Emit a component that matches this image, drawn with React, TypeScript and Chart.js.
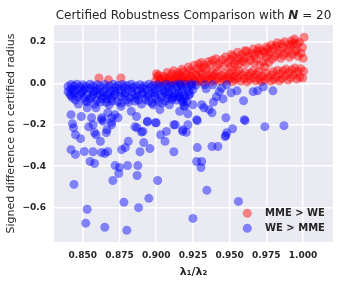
import React, { useEffect, useRef } from "react";
import { Chart, registerables } from "chart.js";

Chart.register(...registerables);

const chartTitle = "Certified Robustness Comparison with ";
const chartTitleVar = "N";
const chartTitleTail = " = 20";
const xAxisLabel = "λ₁/λ₂";
const yAxisLabel = "Signed difference on certified radius";
const seriesLabels = ["MME > WE", "WE > MME"];
const xTickValues = [0.85, 0.875, 0.9, 0.925, 0.95, 0.975, 1.0];
const yTickValues = [-0.6, -0.4, -0.2, 0.0, 0.2];

// MME > WE  [ratio, signed difference]
const mmePoints: [number, number][] = [
  [0.861, 0.026], [0.8675, 0.017], [0.876, 0.026],
  [0.8995, 0.012], [0.9008, 0.032], [0.9002, 0.047],
  [0.9021, 0.004], [0.9029, 0.021], [0.9017, 0.039],
  [0.9043, 0.016], [0.9051, 0.034],
  [0.9062, 0.007], [0.9068, 0.026], [0.9074, 0.052],
  [0.9086, 0.013], [0.9093, 0.031],
  [0.9101, 0.005], [0.9112, 0.019], [0.9106, 0.046], [0.9118, 0.061],
  [0.9127, 0.014], [0.9134, 0.037],
  [0.9145, 0.009], [0.9152, 0.027], [0.9149, 0.051],
  [0.9166, 0.004], [0.9171, 0.022], [0.9159, 0.041], [0.9175, 0.068],
  [0.9188, 0.011], [0.9193, 0.031], [0.9184, 0.056],
  [0.9202, 0.007], [0.9213, 0.024], [0.9207, 0.044], [0.9219, 0.079],
  [0.9226, 0.016], [0.9238, 0.036], [0.9231, 0.063],
  [0.9246, 0.005], [0.9254, 0.021], [0.9249, 0.052], [0.9258, 0.088],
  [0.9267, 0.012], [0.9272, 0.041], [0.9279, 0.071],
  [0.9285, 0.008], [0.9291, 0.029], [0.9298, 0.057], [0.9289, 0.094],
  [0.9305, 0.019], [0.9311, 0.046], [0.9318, 0.074], [0.9309, 0.101],
  [0.9322, 0.006], [0.9331, 0.027], [0.9327, 0.086],
  [0.9348, 0.015], [0.9352, 0.039], [0.9344, 0.069], [0.9357, 0.106],
  [0.9364, 0.023], [0.9372, 0.051], [0.9369, 0.091],
  [0.9381, 0.008], [0.9388, 0.034], [0.9385, 0.112],
  [0.9404, 0.016], [0.9398, 0.044], [0.9411, 0.081], [0.9407, 0.119],
  [0.9423, 0.027], [0.9417, 0.058], [0.9429, 0.096],
  [0.9437, 0.011], [0.9445, 0.038], [0.9449, 0.114],
  [0.9458, 0.021], [0.9466, 0.049], [0.9462, 0.086], [0.9471, 0.127],
  [0.9479, 0.012], [0.9486, 0.031], [0.9491, 0.101],
  [0.9503, 0.022], [0.9497, 0.046], [0.9509, 0.079], [0.9505, 0.116], [0.9512, 0.139],
  [0.9521, 0.009], [0.9527, 0.034], [0.9518, 0.061], [0.9531, 0.094], [0.9524, 0.131],
  [0.9538, 0.018], [0.9546, 0.051], [0.9549, 0.109],
  [0.9557, 0.029], [0.9563, 0.064], [0.9559, 0.091], [0.9566, 0.124], [0.9554, 0.151],
  [0.9577, 0.011], [0.9584, 0.041], [0.9588, 0.106], [0.9581, 0.139],
  [0.9598, 0.023], [0.9604, 0.054], [0.9609, 0.096], [0.9601, 0.121], [0.9606, 0.159],
  [0.9618, 0.007], [0.9626, 0.036], [0.9629, 0.131], [0.9615, 0.154],
  [0.9637, 0.019], [0.9643, 0.049], [0.9641, 0.111], [0.9652, 0.146],
  [0.9663, 0.027], [0.9658, 0.061], [0.9667, 0.099], [0.9669, 0.136], [0.9661, 0.166],
  [0.9678, 0.013], [0.9684, 0.044], [0.9681, 0.119], [0.9692, 0.156],
  [0.9702, 0.021], [0.9697, 0.056], [0.9706, 0.089], [0.9709, 0.141], [0.9699, 0.171],
  [0.9718, 0.009], [0.9724, 0.034], [0.9729, 0.104], [0.9716, 0.159],
  [0.9738, 0.017], [0.9745, 0.051], [0.9741, 0.079], [0.9748, 0.126], [0.9736, 0.149], [0.9751, 0.176],
  [0.9762, 0.029], [0.9766, 0.101], [0.9768, 0.139], [0.9759, 0.166],
  [0.9779, 0.011], [0.9786, 0.041], [0.9789, 0.116], [0.9776, 0.154], [0.9784, 0.186],
  [0.9801, 0.019], [0.9796, 0.056], [0.9809, 0.129], [0.9798, 0.171],
  [0.9819, 0.031], [0.9826, 0.064], [0.9829, 0.144], [0.9816, 0.181], [0.9824, 0.196],
  [0.9838, 0.013], [0.9845, 0.046], [0.9848, 0.121], [0.9836, 0.161],
  [0.9857, 0.023], [0.9864, 0.061], [0.9867, 0.136], [0.9862, 0.174], [0.9855, 0.191],
  [0.9878, 0.036], [0.9884, 0.069], [0.9887, 0.149], [0.9876, 0.201],
  [0.9898, 0.016], [0.9904, 0.051], [0.9907, 0.126], [0.9896, 0.164], [0.9909, 0.189],
  [0.9918, 0.027], [0.9924, 0.066], [0.9927, 0.139], [0.9916, 0.181], [0.9922, 0.206],
  [0.9938, 0.041], [0.9944, 0.074], [0.9947, 0.154], [0.9936, 0.194], [0.9943, 0.214],
  [0.9957, 0.021], [0.9964, 0.056], [0.9967, 0.131], [0.9955, 0.161], [0.9962, 0.191],
  [0.9978, 0.031], [0.9984, 0.071], [0.9987, 0.146], [0.9976, 0.199],
  [0.9998, 0.026], [1.0004, 0.059], [1.0001, 0.121], [0.9996, 0.174], [1.0007, 0.223],
];

// WE > MME  [ratio, signed difference]
const wePoints: [number, number][] = [
  [0.840, -0.015], [0.840, -0.04],
  [0.842, -0.005], [0.842, -0.028], [0.842, -0.06],
  [0.844, -0.012], [0.844, -0.045], [0.845, -0.08],
  [0.846, -0.004], [0.846, -0.03], [0.847, -0.1],
  [0.848, -0.018], [0.848, -0.055],
  [0.850, -0.006], [0.850, -0.035], [0.851, -0.07],
  [0.852, -0.015], [0.853, -0.05], [0.853, -0.09],
  [0.855, -0.004], [0.855, -0.025], [0.856, -0.065],
  [0.857, -0.012], [0.858, -0.04], [0.858, -0.1],
  [0.860, -0.006], [0.860, -0.03], [0.861, -0.055],
  [0.862, -0.015], [0.863, -0.075], [0.864, -0.04],
  [0.865, -0.005], [0.866, -0.022], [0.867, -0.06],
  [0.868, -0.012], [0.869, -0.035], [0.870, -0.085],
  [0.871, -0.004], [0.872, -0.02], [0.872, -0.05],
  [0.874, -0.01], [0.875, -0.03], [0.876, -0.065],
  [0.877, -0.005], [0.878, -0.018], [0.879, -0.045],
  [0.880, -0.01], [0.881, -0.03], [0.882, -0.07],
  [0.883, -0.004], [0.884, -0.02], [0.885, -0.055],
  [0.886, -0.012], [0.887, -0.035], [0.888, -0.08],
  [0.889, -0.006], [0.890, -0.022], [0.891, -0.05],
  [0.892, -0.012], [0.893, -0.03], [0.894, -0.065],
  [0.895, -0.004], [0.896, -0.018], [0.897, -0.045],
  [0.898, -0.01], [0.899, -0.03], [0.900, -0.075],
  [0.901, -0.006], [0.902, -0.02], [0.903, -0.05],
  [0.904, -0.012], [0.905, -0.035], [0.906, -0.085],
  [0.907, -0.004], [0.908, -0.02], [0.909, -0.055],
  [0.910, -0.01], [0.911, -0.03], [0.912, -0.065],
  [0.913, -0.006], [0.914, -0.018], [0.915, -0.045],
  [0.917, -0.01], [0.918, -0.028], [0.919, -0.06], [0.916, -0.003],
  [0.920, -0.005], [0.921, -0.02], [0.922, -0.04],
  [0.924, -0.012], [0.925, -0.03], [0.927, -0.008],
  [0.8412, -0.052], [0.8436, -0.035], [0.8468, -0.065], [0.8493, -0.045],
  [0.8515, -0.028], [0.8547, -0.075], [0.8573, -0.038], [0.8596, -0.082],
  [0.8618, -0.045], [0.8641, -0.062], [0.8673, -0.048], [0.8694, -0.072],
  [0.8717, -0.038], [0.8739, -0.088], [0.8763, -0.045], [0.8786, -0.058],
  [0.8812, -0.092], [0.8834, -0.042], [0.8857, -0.085], [0.8878, -0.058],
  [0.8903, -0.042], [0.8926, -0.078], [0.8948, -0.052], [0.8972, -0.095],
  [0.8991, -0.045], [0.9015, -0.088], [0.9038, -0.062], [0.9061, -0.045],
  [0.9083, -0.04], [0.9107, -0.078], [0.9128, -0.048], [0.9152, -0.062],
  [0.9171, -0.042], [0.9196, -0.072], [0.9223, -0.058],
  [0.843, -0.07], [0.852, -0.085], [0.857, -0.055], [0.862, -0.09],
  [0.866, -0.075], [0.871, -0.06], [0.876, -0.095], [0.880, -0.08],
  [0.886, -0.07], [0.890, -0.1], [0.895, -0.085], [0.899, -0.06],
  [0.904, -0.095], [0.908, -0.07], [0.914, -0.08], [0.918, -0.09],
  [0.842, -0.151], [0.843, -0.195], [0.8437, -0.214], [0.845, -0.248],
  [0.8485, -0.267], [0.849, -0.16], [0.853, -0.118], [0.856, -0.166],
  [0.854, -0.21], [0.857, -0.2], [0.858, -0.238], [0.859, -0.248],
  [0.859, -0.118], [0.8627, -0.175], [0.863, -0.166], [0.864, -0.183],
  [0.867, -0.142], [0.868, -0.103], [0.8696, -0.166], [0.8696, -0.188],
  [0.8696, -0.2], [0.874, -0.166], [0.872, -0.151], [0.866, -0.092],
  [0.8665, -0.224], [0.866, -0.238], [0.862, -0.28], [0.883, -0.135],
  [0.8866, -0.16], [0.894, -0.183], [0.8995, -0.19], [0.8855, -0.21],
  [0.887, -0.214], [0.891, -0.232], [0.903, -0.248], [0.907, -0.232],
  [0.913, -0.2], [0.9195, -0.111], [0.9216, -0.2], [0.918, -0.232],
  [0.9205, -0.236], [0.9275, -0.175], [0.916, -0.135], [0.909, -0.103],
  [0.911, -0.07], [0.9025, -0.127], [0.898, -0.103], [0.876, -0.111],
  [0.894, -0.186], [0.900, -0.19], [0.912, -0.2], [0.890, -0.235],
  [0.842, -0.32], [0.845, -0.343], [0.851, -0.329], [0.857, -0.33],
  [0.855, -0.377], [0.858, -0.387], [0.8627, -0.334], [0.865, -0.339],
  [0.867, -0.329], [0.872, -0.397], [0.875, -0.406], [0.8805, -0.397],
  [0.8875, -0.397], [0.8745, -0.435], [0.8705, -0.469], [0.887, -0.445],
  [0.844, -0.488], [0.901, -0.469], [0.878, -0.574], [0.895, -0.555],
  [0.888, -0.6], [0.853, -0.608], [0.852, -0.675], [0.865, -0.695],
  [0.88, -0.709], [0.925, -0.652], [0.8765, -0.32], [0.879, -0.31],
  [0.881, -0.28], [0.8915, -0.286], [0.889, -0.33], [0.8957, -0.315],
  [0.906, -0.28], [0.912, -0.33], [0.928, -0.31], [0.9275, -0.377],
  [0.931, -0.377], [0.9305, -0.406], [0.9345, -0.516], [0.956, -0.57],
  [0.938, -0.305], [0.942, -0.305],
  [0.924, -0.003], [0.923, -0.05], [0.933, -0.007], [0.9385, -0.007],
  [0.948, -0.007], [0.9445, -0.022], [0.943, -0.04], [0.934, -0.026],
  [0.955, -0.036], [0.966, -0.04], [0.969, -0.036], [0.973, -0.017],
  [0.9795, -0.036], [0.939, -0.09], [0.9455, -0.075], [0.941, -0.065],
  [0.918, -0.08], [0.919, -0.108], [0.925, -0.103], [0.9216, -0.147],
  [0.931, -0.103], [0.9325, -0.118], [0.936, -0.127], [0.938, -0.142],
  [0.928, -0.18], [0.9475, -0.166], [0.96, -0.175], [0.951, -0.045],
  [0.9595, -0.084], [0.974, -0.209], [0.987, -0.204], [0.952, -0.219],
  [0.9475, -0.252], [0.948, -0.238], [0.916, -0.07], [0.921, -0.089],
  [0.918, -0.224], [0.9605, -0.18], [0.947, -0.257],
];

const seriesColors = ["rgba(255, 0, 0, 0.45)", "rgba(0, 0, 255, 0.45)"];
const textColor = "#262626";
const FONT = "'DejaVu Sans', sans-serif";

const backgroundPlugin = {
  id: "sbBackground",
  beforeDraw(chart: any) {
    const { ctx, chartArea } = chart;
    ctx.save();
    ctx.fillStyle = "#ffffff";
    ctx.fillRect(0, 0, chart.width, chart.height);
    ctx.fillStyle = "#EAEAF2";
    ctx.fillRect(chartArea.left, chartArea.top, chartArea.right - chartArea.left, chartArea.bottom - chartArea.top);
    ctx.restore();
  },
};

const titlePlugin = {
  id: "sbTitle",
  afterDraw(chart: any) {
    const { ctx, chartArea } = chart;
    const normal = `12px ${FONT}`;
    const bi = `italic bold 12px ${FONT}`;
    const segs: [string, string][] = [
      [chartTitle, normal],
      [chartTitleVar, bi],
      [chartTitleTail, normal],
    ];
    ctx.save();
    ctx.fillStyle = textColor;
    ctx.textBaseline = "alphabetic";
    ctx.textAlign = "left";
    let total = 0;
    for (const [t, f] of segs) {
      ctx.font = f;
      total += ctx.measureText(t).width;
    }
    let x = (chartArea.left + chartArea.right) / 2 - total / 2;
    for (const [t, f] of segs) {
      ctx.font = f;
      ctx.fillText(t, x, 19);
      x += ctx.measureText(t).width;
    }
    ctx.restore();
  },
};

const legendPlugin = {
  id: "sbLegend",
  afterDraw(chart: any) {
    const { ctx } = chart;
    const ds = chart.data.datasets;
    ctx.save();
    ctx.font = `bold 10px ${FONT}`;
    ctx.textBaseline = "middle";
    ctx.textAlign = "left";
    ds.forEach((d: any, i: number) => {
      const y = 213.3 + i * 15;
      ctx.beginPath();
      ctx.arc(247.3, y, 4.5, 0, Math.PI * 2);
      ctx.fillStyle = d.backgroundColor;
      ctx.fill();
      ctx.fillStyle = textColor;
      ctx.fillText(d.label, 265, y + 0.5);
    });
    ctx.restore();
  },
};

function fmtY(v: number) {
  const s = Math.abs(v).toFixed(1);
  return v < -1e-9 ? "\u2212" + s : s;
}

export default function App() {
  const ref = useRef<HTMLCanvasElement | null>(null);
  useEffect(() => {
    document.body.style.margin = "0";
    if (!ref.current) return;
    const chart = new Chart(ref.current, {
      type: "scatter",
      data: {
        datasets: [
          {
            label: seriesLabels[0],
            data: mmePoints.map(([x, y]) => ({ x, y })),
            backgroundColor: seriesColors[0],
            borderWidth: 0,
            pointRadius: 4.5,
            pointHoverRadius: 4.5,
            order: 2,
          },
          {
            label: seriesLabels[1],
            data: wePoints.map(([x, y]) => ({ x, y })),
            backgroundColor: seriesColors[1],
            borderWidth: 0,
            pointRadius: 4.5,
            pointHoverRadius: 4.5,
            order: 1,
          },
        ],
      },
      options: {
        animation: false,
        responsive: false,
        devicePixelRatio: 1,
        events: [],
        layout: { padding: { top: 25, right: 7, left: 0, bottom: 0 } },
        plugins: {
          legend: { display: false },
          title: { display: false },
          tooltip: { enabled: false },
        },
        scales: {
          x: {
            type: "linear",
            min: 0.8304,
            max: 1.0204,
            afterBuildTicks: (s: any) => {
              s.ticks = xTickValues.map((v) => ({ value: v }));
            },
            afterFit: (s: any) => {
              s.height = 42;
            },
            grid: { color: "#ffffff", lineWidth: 1.5, drawTicks: false },
            border: { display: false },
            ticks: {
              autoSkip: false,
              maxRotation: 0,
              padding: 8,
              color: textColor,
              font: { family: FONT, size: 9, weight: "bold" },
              callback: (v: any) => Number(v).toFixed(3),
            },
            title: {
              display: true,
              text: xAxisLabel,
              color: textColor,
              font: { family: FONT, size: 11, weight: "bold" },
              padding: { top: 0, bottom: 5.4 },
            },
          },
          y: {
            type: "linear",
            min: -0.766,
            max: 0.282,
            afterBuildTicks: (s: any) => {
              s.ticks = yTickValues.map((v) => ({ value: v }));
            },
            afterFit: (s: any) => {
              s.width = 54;
            },
            grid: { color: "#ffffff", lineWidth: 1.5, drawTicks: false },
            border: { display: false },
            ticks: {
              autoSkip: false,
              padding: 8,
              color: textColor,
              font: { family: FONT, size: 9, weight: "bold" },
              callback: (v: any) => fmtY(Number(v)),
            },
            title: {
              display: true,
              text: yAxisLabel,
              color: textColor,
              font: { family: FONT, size: 11, weight: "normal" },
              padding: { top: 5, bottom: 0 },
            },
          },
        },
      },
      plugins: [backgroundPlugin, titlePlugin, legendPlugin],
    } as any);
    return () => chart.destroy();
  }, []);
  return (
    <canvas
      ref={ref}
      width={340}
      height={284}
      style={{ display: "block", width: 340, height: 284 }}
    />
  );
}
